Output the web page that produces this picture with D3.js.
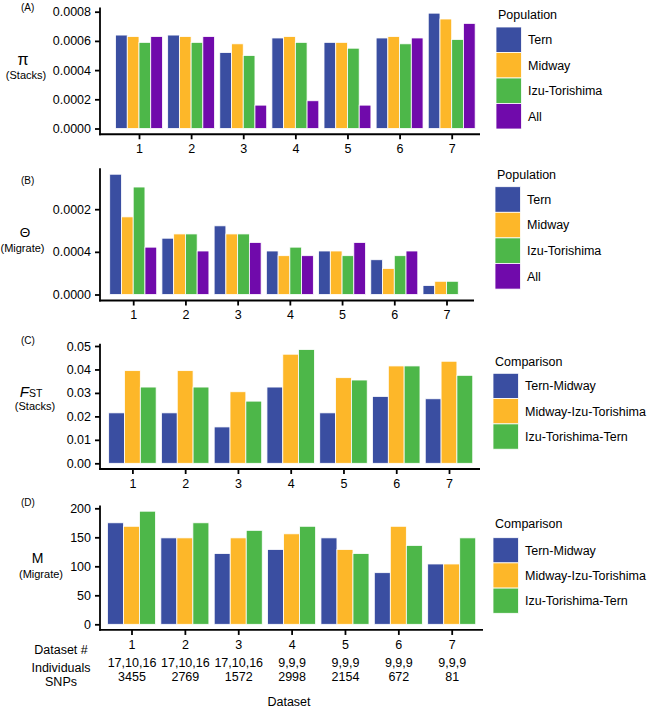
<!DOCTYPE html>
<html><head><meta charset="utf-8">
<script src="https://cdn.jsdelivr.net/npm/d3@7"></script>
<style>
body{margin:0;background:#fff;}
text{font-family:"Liberation Sans",Arial,sans-serif;fill:#000;}
</style></head>
<body>
<svg id="chart" width="650" height="711"></svg>
<script>
// ---------- data ----------
const datasets = ["1","2","3","4","5","6","7"];
const individuals = ["17,10,16","17,10,16","17,10,16","9,9,9","9,9,9","9,9,9","9,9,9"];
const snps = ["3455","2769","1572","2998","2154","672","81"];
const populations = ["Tern","Midway","Izu-Torishima","All"];
const comparisons = ["Tern-Midway","Midway-Izu-Torishima","Izu-Torishima-Tern"];

// (A) pi (Stacks)
const piTern    = [0.00064,0.00064,0.00052,0.00062,0.00059,0.00062,0.00079];
const piMidway  = [0.00063,0.00063,0.00058,0.00063,0.00059,0.00063,0.00075];
const piIzu     = [0.00059,0.00059,0.00050,0.00059,0.00055,0.00058,0.00061];
const piAll     = [0.00063,0.00063,0.00016,0.00019,0.00016,0.00062,0.00072];
const piTicks = [0,0.0002,0.0004,0.0006,0.0008];
const piTickLabels = ["0.0000","0.0002","0.0004","0.0006","0.0008"];

// (B) Theta (Migrate)
const thetaTern   = [0.000282,0.000132,0.000161,0.000102,0.000102,0.0000815,0.000021];
const thetaMidway = [0.000182,0.000142,0.000142,0.000091,0.000102,0.000061,0.000031];
const thetaIzu    = [0.000252,0.000142,0.000142,0.000111,0.000091,0.000091,0.000031];
const thetaAll    = [0.000111,0.000102,0.000122,0.000091,0.000122,0.000102,null];
const thetaTicks = [0,0.0001,0.0002];
const thetaTickLabels = ["0.0000","0.0004","0.0002"];

// (C) FST (Stacks)
const fstTM = [0.0215,0.0215,0.0155,0.0325,0.0215,0.0285,0.0275];
const fstMI = [0.0395,0.0395,0.0305,0.0465,0.0365,0.0415,0.0435];
const fstIT = [0.0325,0.0325,0.0265,0.0485,0.0355,0.0415,0.0375];
const fstTicks = [0,0.01,0.02,0.03,0.04,0.05];
const fstTickLabels = ["0.00","0.01","0.02","0.03","0.04","0.05"];

// (D) M (Migrate)
const mTM = [175,149,122,129,149,89,104];
const mMI = [169,149,149,156,129,169,104];
const mIT = [195,175,162,169,122,136,149];
const mTicks = [0,50,100,150,200];
const mTickLabels = ["0","50","100","150","200"];

const popColors = ["#3A4EA1","#FDB729","#4DB749","#700AAB"];

// ---------- layout ----------
const svg = d3.select("#chart");
const FS = 12.5;
const axisX = 100;

const panels = [
  {tag:"(A)", tagY:11, series:[piTern,piMidway,piIzu,piAll], keys:populations,
   ticks:piTicks, labels:piTickLabels, y0:128.5, yTop:11.7, c1:139, c7:451.7, xEnd:480,
   legendTitle:"Population", legX:496, legTitleY:15, legY:27, sw:25.5},
  {tag:"(B)", tagY:184, series:[thetaTern,thetaMidway,thetaIzu,thetaAll], keys:populations,
   ticks:thetaTicks, labels:thetaTickLabels, y0:294.5, yTop:209.2, c1:133.2, c7:446.5, xEnd:474,
   legendTitle:"Population", legX:495, legTitleY:175, legY:186.7, sw:25.6},
  {tag:"(C)", tagY:344, series:[fstTM,fstMI,fstIT], keys:comparisons,
   ticks:fstTicks, labels:fstTickLabels, y0:463.3, yTop:346, c1:132.4, c7:449, xEnd:480,
   legendTitle:"Comparison", legX:493, legTitleY:361.7, legY:373.3, sw:25.3},
  {tag:"(D)", tagY:506, series:[mTM,mMI,mIT], keys:comparisons,
   ticks:mTicks, labels:mTickLabels, y0:624.3, yTop:508.3, c1:131.5, c7:451.7, xEnd:483,
   legendTitle:"Comparison", legX:493, legTitleY:524, legY:537.7, sw:25.2}
];

panels.forEach((p, pi) => {
  const g = svg.append("g");
  const tMax = p.ticks[p.ticks.length-1];
  const y = d3.scaleLinear().domain([0, tMax]).range([p.y0, p.yTop]);
  const x = d3.scalePoint().domain(datasets).range([p.c1, p.c7]);
  const step = x.step();
  const gw = step * 0.9;
  const inner = d3.scaleBand().domain(d3.range(p.series.length)).range([-gw/2, gw/2]);
  const dataMax = d3.max(p.series.flat().filter(v => v != null));
  const axisY = y(-0.05 * dataMax);
  const topY = y(1.05 * dataMax);

  // bars
  p.series.forEach((arr, si) => {
    g.selectAll(null).data(arr.map((v,i)=>({v, ds:datasets[i]})).filter(d => d.v != null))
      .enter().append("rect")
      .attr("x", d => x(d.ds) + inner(si))
      .attr("width", inner.bandwidth())
      .attr("y", d => y(d.v))
      .attr("height", d => y(0) - y(d.v))
      .attr("fill", popColors[si])
      .attr("stroke", "#fff").attr("stroke-width", 0.8);
  });

  // y axis
  const ya = g.append("g").attr("transform", `translate(${axisX},0)`)
    .call(d3.axisLeft(y).tickValues(p.ticks).tickFormat((d,i)=>p.labels[i]).tickSize(5).tickSizeOuter(0));
  ya.select(".domain").remove();
  ya.selectAll(".tick line").attr("stroke","#000").attr("stroke-width",1.8);
  ya.selectAll(".tick text").attr("font-size",FS).attr("x",-9).attr("fill","#000")
    .attr("font-family","Liberation Sans, Arial, sans-serif");

  // x axis
  const xa = g.append("g").attr("transform", `translate(0,${axisY})`)
    .call(d3.axisBottom(x).tickSize(5).tickSizeOuter(0));
  xa.select(".domain").remove();
  xa.selectAll(".tick line").attr("stroke","#000").attr("stroke-width",1.8);
  xa.selectAll(".tick text").attr("font-size",FS).attr("y",10).attr("fill","#000")
    .attr("font-family","Liberation Sans, Arial, sans-serif");

  if (pi === 3) {
    xa.selectAll(".tick text").each(function(d,i){
      const t = d3.select(this);
      t.text(null);
      t.append("tspan").attr("x",0).attr("dy","0.71em").text(d);
      t.append("tspan").attr("x",0).attr("dy",18).text(individuals[i]);
      t.append("tspan").attr("x",0).attr("dy",14.5).text(snps[i]);
    });
  }

  // axis lines
  g.append("line").attr("x1",axisX).attr("x2",axisX).attr("y1",topY).attr("y2",axisY+0.9)
    .attr("stroke","#000").attr("stroke-width",1.8);
  g.append("line").attr("x1",axisX-0.9).attr("x2",p.xEnd).attr("y1",axisY).attr("y2",axisY)
    .attr("stroke","#000").attr("stroke-width",1.8);

  // panel tag
  g.append("text").attr("x",21).attr("y",p.tagY).attr("font-size",10).text(p.tag);

  // legend
  const lg = g.append("g");
  lg.append("text").attr("x",p.legX+2).attr("y",p.legTitleY).attr("dy","0.35em")
    .attr("font-size",FS).text(p.legendTitle);
  p.keys.forEach((k,i)=>{
    lg.append("rect").attr("x",p.legX).attr("y",p.legY+i*p.sw).attr("width",25.5).attr("height",p.sw)
      .attr("fill",popColors[i]).attr("stroke","#fff").attr("stroke-width",0.8);
    lg.append("text").attr("x",p.legX+32).attr("y",p.legY+i*p.sw+p.sw/2).attr("dy","0.35em")
      .attr("font-size",FS).text(k);
  });
});

// y-axis titles
svg.append("text").attr("x",23).attr("y",64.5).attr("text-anchor","middle").attr("font-size",16).text("π");
svg.append("text").attr("x",26).attr("y",79).attr("text-anchor","middle").attr("font-size",11).text("(Stacks)");

svg.append("text").attr("x",25).attr("y",236.5).attr("text-anchor","middle").attr("font-size",13.5).text("Θ");
svg.append("text").attr("x",22.5).attr("y",252).attr("text-anchor","middle").attr("font-size",11).text("(Migrate)");

const fst = svg.append("text").attr("x",31).attr("y",397).attr("text-anchor","middle");
fst.append("tspan").attr("font-size",15).attr("font-style","italic").text("F");
fst.append("tspan").attr("font-size",10.5).text("ST");
svg.append("text").attr("x",35).attr("y",409.5).attr("text-anchor","middle").attr("font-size",11).text("(Stacks)");

svg.append("text").attr("x",37.5).attr("y",563).attr("text-anchor","middle").attr("font-size",14).text("M");
svg.append("text").attr("x",41).attr("y",577.5).attr("text-anchor","middle").attr("font-size",11).text("(Migrate)");

// row labels under panel D
const rowLabels = ["Dataset #","Individuals","SNPs"];
const rowY = [653.7, 671.7, 686.2];
rowLabels.forEach((r,i)=>{
  svg.append("text").attr("x",61).attr("y",rowY[i]).attr("text-anchor","middle").attr("font-size",FS).text(r);
});
svg.append("text").attr("x",289).attr("y",706).attr("text-anchor","middle").attr("font-size",FS).text("Dataset");
</script>
</body></html>
